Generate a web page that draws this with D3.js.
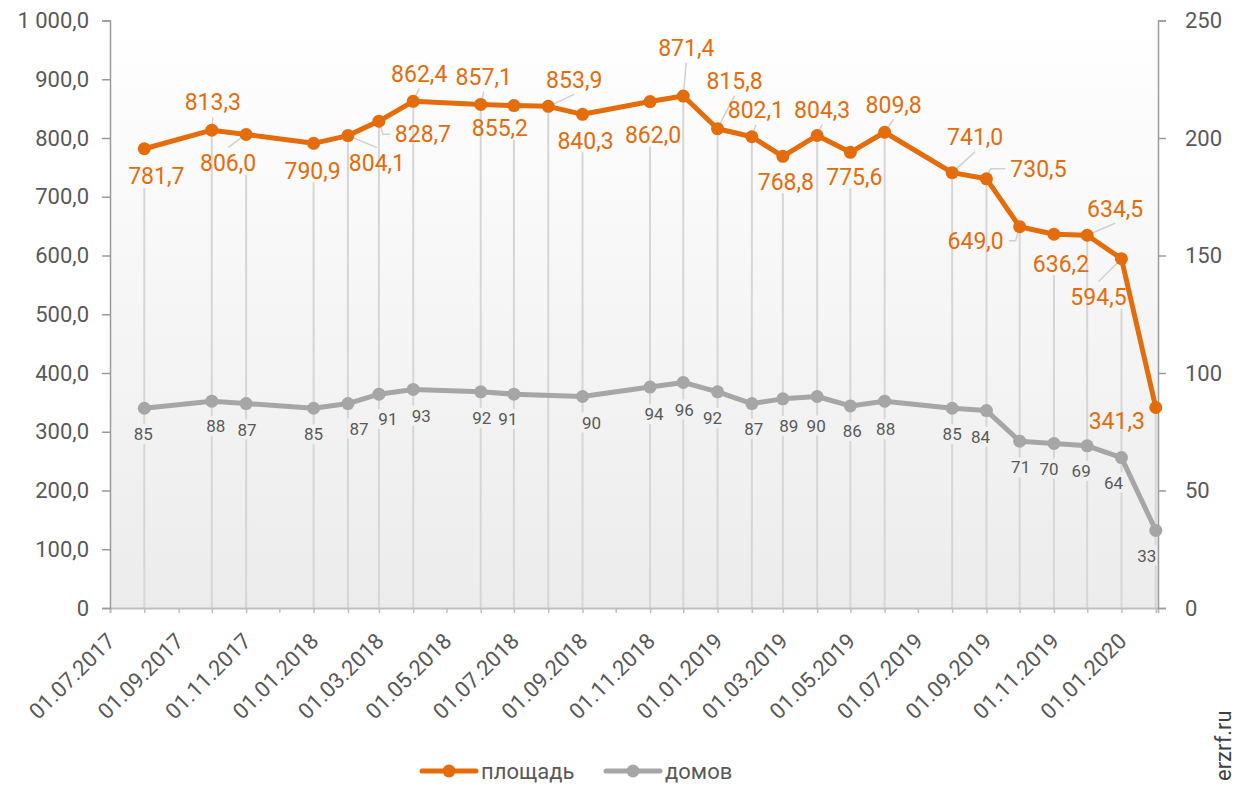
<!DOCTYPE html>
<html><head><meta charset="utf-8">
<script src="https://cdn.jsdelivr.net/npm/d3@7"></script>
<style>body{margin:0;background:#fff} svg{display:block} text{font-family:Roboto, "Noto Sans", sans-serif}</style>
</head><body><svg id="c" width="1238" height="785"></svg>
<script>
// ---------- data ----------
const dates = ["01.08.2017","01.10.2017","01.11.2017","01.01.2018","01.02.2018","01.03.2018","01.04.2018","01.06.2018","01.07.2018","01.08.2018","01.09.2018","01.11.2018","01.12.2018","01.01.2019","01.02.2019","01.03.2019","01.04.2019","01.05.2019","01.06.2019","01.08.2019","01.09.2019","01.10.2019","01.11.2019","01.12.2019","01.01.2020","01.02.2020"];
const area = [781.7, 813.3, 806.0, 790.9, 804.1, 828.7, 862.4, 857.1, 855.2, 853.9, 840.3, 862.0, 871.4, 815.8, 802.1, 768.8, 804.3, 775.6, 809.8, 741.0, 730.5, 649.0, 636.2, 634.5, 594.5, 341.3];
const houses = [85, 88, 87, 85, 87, 91, 93, 92, 91, null, 90, 94, 96, 92, 87, 89, 90, 86, 88, 85, 84, 71, 70, 69, 64, 33];
const leftTicks = [0, 100, 200, 300, 400, 500, 600, 700, 800, 900, 1000];
const rightTicks = [0, 50, 100, 150, 200, 250];
const xTickLabels = ["01.07.2017","01.09.2017","01.11.2017","01.01.2018","01.03.2018","01.05.2018","01.07.2018","01.09.2018","01.11.2018","01.01.2019","01.03.2019","01.05.2019","01.07.2019","01.09.2019","01.11.2019","01.01.2020"];
const seriesNames = ["площадь", "домов"];
const sourceText = "erzrf.ru";

// ---------- label layout (pixel offsets from point; leader: 0 none, 1 straight, 2 elbow) ----------
const areaLabelPos = [[12,27,0],[1,-28,1],[-18,28,1],[-1,27,0],[29,27,1],[44,13,2],[6,-28,1],[3,-28,1],[-14,22,0],[26,-27,1],[3,26,0],[3,33,0],[3,-48,1],[17,-48,1],[4,-27,1],[3,25,0],[5,-26,1],[4,24,0],[9,-28,1],[23,-36,1],[52,-10,2],[-44,14,2],[7,29,0],[28,-27,1],[-23,38,1],[-39,13,0]];
const houseLabelPos = [[-1,26],[4,25],[1,26],[0,26],[11,25],[9,25],[8,26],[1,26],[-6,25],null,[9,26],[4,27],[1,27],[-5,26],[2,25],[6,27],[-1,29],[2,25],[1,28],[0,26],[-6,26],[1,26],[-5,25],[-6,25],[-8,25],[-9,25]];

// ---------- setup ----------
const ORANGE = "#E46C0A", GRAY = "#A6A6A6", TXT = "#595959";
const loc = d3.formatLocale({decimal: ",", thousands: "\u00a0", grouping: [3], currency: ["", ""]});
const f1 = loc.format(",.1f");
const parse = d3.utcParse("%d.%m.%Y");
const pts = dates.map((d, i) => ({date: parse(d), area: area[i], houses: houses[i], i}));

const svg = d3.select("#c");
const m = {l: 110, r: 1158, t: 20.5, b: 608};
const x = d3.scaleUtc().domain([parse("01.07.2017"), parse("03.02.2020")]).range([m.l, m.r]);
const yL = d3.scaleLinear().domain([0, 1000]).range([m.b, m.t]);
const yR = d3.scaleLinear().domain([0, 250]).range([m.b, m.t]);

const defs = svg.append("defs");
const gr = defs.append("linearGradient").attr("id", "bg").attr("gradientUnits", "userSpaceOnUse")
  .attr("x1", 0).attr("y1", m.t).attr("x2", 0).attr("y2", m.b);
gr.append("stop").attr("offset", 0).attr("stop-color", "#ffffff");
gr.append("stop").attr("offset", 1).attr("stop-color", "#ececec");

const bgL = svg.append("g"), dropL = svg.append("g"), leadL = svg.append("g"), rectL = svg.append("g"),
      axisL = svg.append("g"), serL = svg.append("g"), labL = svg.append("g");

bgL.append("rect").attr("x", m.l).attr("y", m.t).attr("width", m.r - m.l).attr("height", m.b - m.t).attr("fill", "url(#bg)");

// axes
const ax = axisL.append("g").attr("transform", `translate(0,${m.b})`)
  .call(d3.axisBottom(x).ticks(d3.utcMonth.every(1)).tickSize(5).tickFormat(""));
ax.select(".domain").attr("stroke", "#bfbfbf").attr("stroke-width", 2);
ax.selectAll(".tick line").attr("stroke", "#bfbfbf").attr("stroke-width", 1.5);

axisL.append("g").selectAll("text").data(xTickLabels).join("text")
  .attr("transform", d => `translate(${x(parse(d)) + 1},637) rotate(-45)`)
  .attr("text-anchor", "end").attr("dy", "0.35em")
  .attr("fill", TXT).attr("font-size", 22).text(d => d);

const la = axisL.append("g").attr("transform", `translate(${m.l},0)`)
  .call(d3.axisLeft(yL).tickValues(leftTicks).tickSize(8).tickPadding(13).tickFormat(d => d === 0 ? "0" : f1(d)));
const ra = axisL.append("g").attr("transform", `translate(${m.r},0)`)
  .call(d3.axisRight(yR).tickValues(rightTicks).tickSize(8).tickPadding(19).tickFormat(d3.format("d")));
[la, ra].forEach(a => {
  a.select(".domain").attr("stroke", "#9a9a9a").attr("stroke-width", 1.5);
  a.selectAll(".tick line").attr("stroke", "#9a9a9a").attr("stroke-width", 1.5);
  a.selectAll(".tick text").attr("fill", TXT).attr("font-size", 22).attr("font-family", "Roboto, sans-serif");
});

// series
const hp = pts.filter(d => d.houses != null);
serL.append("path").datum(hp)
  .attr("d", d3.line().x(d => x(d.date)).y(d => yR(d.houses)))
  .attr("fill", "none").attr("stroke", GRAY).attr("stroke-width", 5).attr("stroke-linejoin", "round");
serL.append("g").selectAll("circle").data(hp).join("circle")
  .attr("cx", d => x(d.date)).attr("cy", d => yR(d.houses)).attr("r", 6.5).attr("fill", GRAY);
serL.append("path").datum(pts)
  .attr("d", d3.line().x(d => x(d.date)).y(d => yL(d.area)))
  .attr("fill", "none").attr("stroke", ORANGE).attr("stroke-width", 5).attr("stroke-linejoin", "round");
serL.append("g").selectAll("circle").data(pts).join("circle")
  .attr("cx", d => x(d.date)).attr("cy", d => yL(d.area)).attr("r", 6.5).attr("fill", ORANGE);

// area labels (+ drop lines, leaders)
pts.forEach((d, i) => {
  const [dx, dy, lt] = areaLabelPos[i];
  const px = x(d.date), py = yL(d.area);
  const cx = px + dx, cy = py + dy;
  const t = labL.append("text").attr("x", cx).attr("y", cy).attr("dy", "0.36em")
    .attr("text-anchor", "middle").attr("fill", ORANGE).attr("font-size", 23).text(f1(d.area));
  const w = t.node().getComputedTextLength() + 6, h = 30;
  const covers = dy > 0 && Math.abs(cx - px) < w / 2 - 4;
  dropL.append("line").attr("x1", px).attr("x2", px)
    .attr("y1", covers ? cy + 12 : py).attr("y2", m.b)
    .attr("stroke", "#d6d6d6").attr("stroke-width", 2);
  if (lt === 1) {
    const ey = dy < 0 ? cy + h / 2 : cy - h / 2;
    leadL.append("line").attr("x1", px).attr("y1", py).attr("x2", cx).attr("y2", ey)
      .attr("stroke", "#d0d0d0").attr("stroke-width", 1.5);
  } else if (lt === 2) {
    const s = Math.sign(dx), ex = cx - s * w / 2 - s * 2;
    leadL.append("polyline").attr("points", `${px},${py} ${px + s * 4},${cy} ${ex},${cy}`)
      .attr("fill", "none").attr("stroke", "#d0d0d0").attr("stroke-width", 1.5);
  }
});

// house labels
pts.forEach((d, i) => {
  if (d.houses == null) return;
  const [dx, dy] = houseLabelPos[i];
  const cx = x(d.date) + dx, cy = yR(d.houses) + dy;
  const t = labL.append("text").attr("x", cx).attr("y", cy).attr("dy", "0.36em")
    .attr("text-anchor", "middle").attr("fill", TXT).attr("font-size", 17).text(d.houses);
  const w = t.node().getComputedTextLength() + 4, h = 20;
  rectL.append("rect").attr("x", cx - w / 2).attr("y", cy - h / 2).attr("width", w).attr("height", h).attr("fill", "url(#bg)");
});

// legend
const leg = svg.append("g");
const legItems = [{name: seriesNames[0], c: ORANGE, x0: 422}, {name: seriesNames[1], c: GRAY, x0: 606}];
legItems.forEach(it => {
  leg.append("line").attr("x1", it.x0).attr("x2", it.x0 + 54).attr("y1", 771).attr("y2", 771)
    .attr("stroke", it.c).attr("stroke-width", 5).attr("stroke-linecap", "round");
  leg.append("circle").attr("cx", it.x0 + 27).attr("cy", 771).attr("r", 6.5).attr("fill", it.c);
  leg.append("text").attr("x", it.x0 + 59).attr("y", 771).attr("dy", "0.35em")
    .attr("fill", TXT).attr("font-size", 22).text(it.name);
});

// source
svg.append("text").attr("transform", "translate(1231,781) rotate(-90)")
  .attr("fill", "#404040").attr("font-size", 22).text(sourceText);
</script>
</body></html>
